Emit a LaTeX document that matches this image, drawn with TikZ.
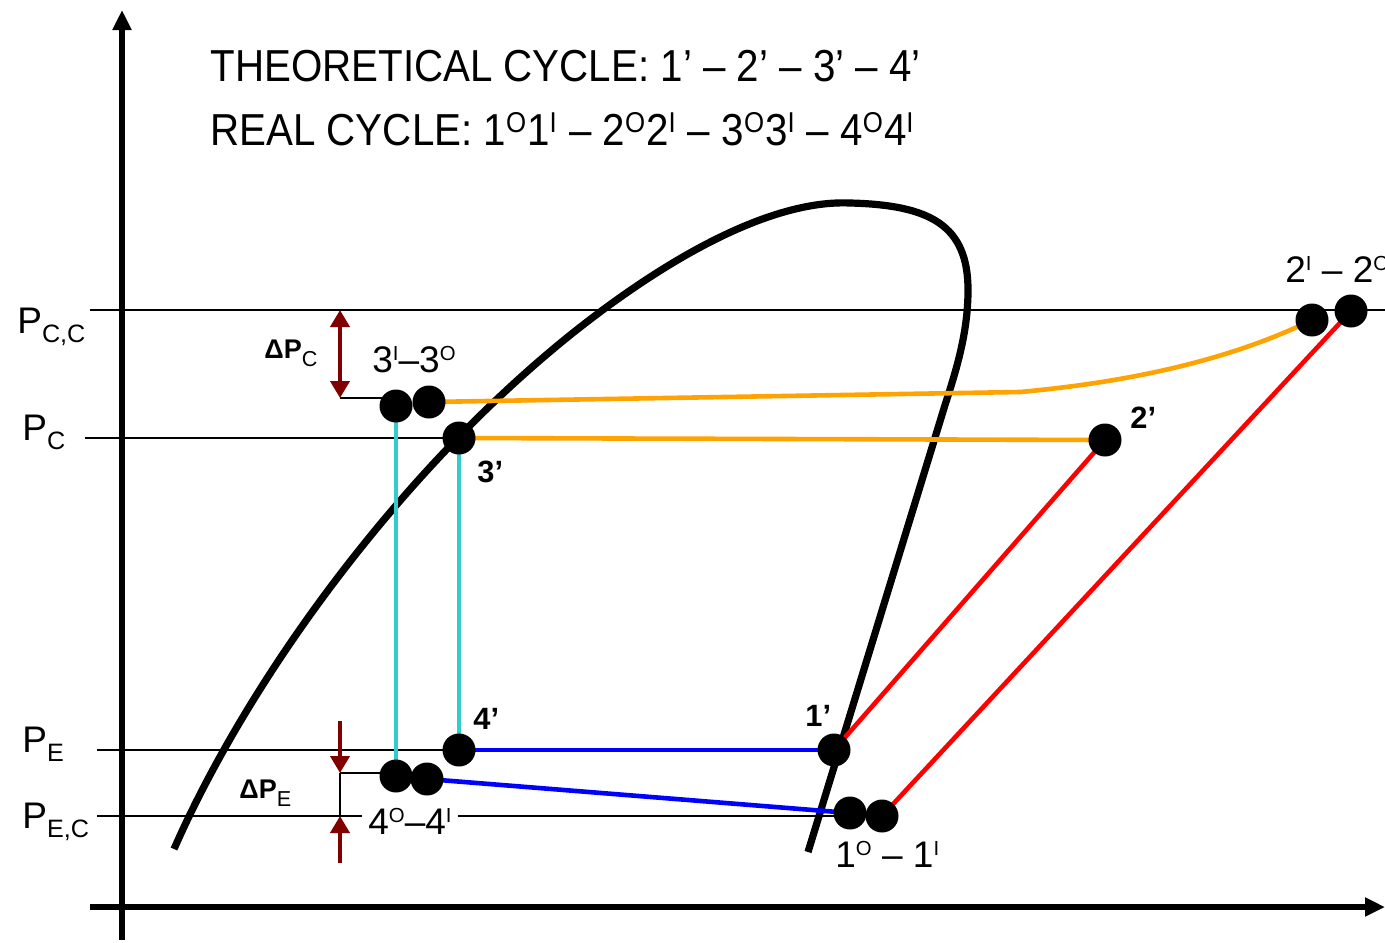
\documentclass[tikz,border=0pt]{standalone}
\usepackage{fontspec}
\usepackage{graphicx}
\setmainfont{Liberation Sans}
\newfontfamily\narrowfont[FakeStretch=0.9]{Liberation Sans}
\usetikzlibrary{arrows.meta}
\definecolor{corange}{RGB}{255,163,0}
\definecolor{ccyan}{RGB}{51,204,204}
\definecolor{cblue}{RGB}{0,0,255}
\definecolor{cred}{RGB}{255,0,0}
\definecolor{dred}{RGB}{128,0,0}
\newcommand\supx[1]{\raisebox{0.32em}{\scalebox{0.55}{#1}}}
\newcommand\supt[1]{\raisebox{0.27em}{\scalebox{0.64}{#1}}\kern0.5pt\relax}
\newcommand\subx[1]{\raisebox{-0.26em}{\scalebox{0.68}{#1}}}
\newcommand\subd[1]{\raisebox{-0.3em}{\scalebox{0.8}{#1}}}
\tikzset{dtip/.tip={Triangle[length=8.5pt,width=9.5pt]}}
\begin{document}
\begin{tikzpicture}[x=0.5pt,y=-0.5pt,
  dot/.style={circle,fill=black,minimum size=16.5pt,inner sep=0pt},
  thinline/.style={line width=0.75pt},
  axis/.style={line width=3pt,-{Triangle[length=10pt,width=9pt]}},
  dome/.style={line width=3.6pt},
  cyc/.style={line width=2.3pt},
  lbl/.style={font=\fontsize{18.5pt}{18.5pt}\selectfont,inner sep=0pt,anchor=base west},
  plbl/.style={font=\fontsize{18.5pt}{18.5pt}\selectfont,inner sep=0pt,anchor=base west},
  ptlbl/.style={font=\bfseries\fontsize{15.4pt}{15.4pt}\selectfont,inner sep=0pt,anchor=base west},
  dplbl/.style={font=\bfseries\fontsize{13.5pt}{13.5pt}\selectfont,inner sep=0pt,anchor=base west},
  title/.style={font=\narrowfont\fontsize{22.4pt}{22.4pt}\selectfont,inner sep=0pt,anchor=base west},
  dptip/.style={line width=2pt,dred},
]
\useasboundingbox (0,0) rectangle (1385,942);
% points
\coordinate (p3I) at (396,406);
\coordinate (p3O) at (429,402);
\coordinate (p3p) at (459,438);
\coordinate (p2p) at (1105,440);
\coordinate (p2I) at (1312,320);
\coordinate (p2O) at (1351,311);
\coordinate (p4p) at (459,750);
\coordinate (p1p) at (834,750);
\coordinate (p4O) at (396,776);
\coordinate (p4I) at (427,779);
\coordinate (p1O) at (850,813);
\coordinate (p1I) at (882,816);
% axes
\coordinate (yb) at (122,940); \coordinate (yt) at (122,10);
\coordinate (xl) at (90,907); \coordinate (xr) at (1385,907);
\draw[axis] (yb) -- (yt);
\draw[axis] (xl) -- (xr);
% pressure lines
\coordinate (pccL) at (90,310); \coordinate (pccR) at (1385,310);
\coordinate (pcL) at (85,438);
\coordinate (peL) at (97,750);
\coordinate (pecL) at (97,816); \coordinate (pecR) at (845,816);
\coordinate (d3) at (340,398); \coordinate (d4) at (340,773);
\coordinate (dcc) at (340,310); \coordinate (dec) at (340,816);
\coordinate (dtop) at (340,721); \coordinate (dbot) at (340,863);
\draw[thinline] (pccL) -- (pccR);
\draw[thinline] (pcL) -- (p3p);
\draw[thinline] (peL) -- (p1p);
\draw[thinline] (pecL) -- (pecR);
\draw[thinline] (d3) -- (d3 -| p3I);
\draw[thinline] (d4) -- (d4 -| p4O);
\draw[thinline] (d4) -- (dec);
% delta P arrows
\draw[dptip,{dtip}-{dtip}] (dcc) -- (d3);
\draw[dptip,-{dtip}] (dtop) -- (d4);
\draw[dptip,-{dtip}] (dbot) -- (dec);
% saturation dome
\draw[dome] (174,849) .. controls (255,665) and (420,446) .. (600,312)
  .. controls (690,245) and (780,200) .. (850,203)
  .. controls (930,205) and (968,225) .. (968,290)
  .. controls (968,330) and (958,365) .. (945,405)
  -- (808,852);
% cycle lines
\coordinate (bend) at (1020,392);
\draw[cyc,corange] (p3O) -- (bend) .. controls (1130,382) and (1230,360) .. (p2I);
\draw[cyc,corange] (p3p) -- (p2p);
\draw[cyc,cred] (p1p) -- (p2p);
\draw[cyc,cred] (p1I) -- (p2O);
\draw[cyc,ccyan] (p3I) -- (p4O);
\draw[cyc,ccyan] (p3p) -- (p4p);
\draw[cyc,cblue] (p4p) -- (p1p);
\draw[cyc,cblue] (p4I) -- (p1O);
% dots
\foreach \p in {p3I,p3O,p3p,p2p,p2I,p2O,p4p,p1p,p4O,p4I,p1O,p1I}
  \node[dot] (n\p) at (\p) {};
% labels
\node[title] (t1) at (210,81) {THEORETICAL CYCLE: 1’ – 2’ – 3’ – 4’};
\node[title] (t2) at (210,145) {REAL CYCLE: 1\supt{O}1\supt{I} – 2\supt{O}2\supt{I} – 3\supt{O}3\supt{I} – 4\supt{O}4\supt{I}};
\node[plbl] (lpcc) at (17,333) {P\subx{C,C}};
\node[plbl] (lpc) at (22,440) {P\subx{C}};
\node[plbl] (lpe) at (22,752) {P\subx{E}};
\node[plbl] (lpec) at (22,828) {P\subx{E,C}};
\node[dplbl] (ldpc) at (264,358) {ΔP\subd{\mdseries C}};
\node[dplbl] (ldpe) at (239,798) {ΔP\subd{\mdseries E}};
\node[lbl] (l3) at (372,372) {3\supx{I}–3\supx{O}};
\node[lbl,fill=white,inner xsep=3pt] (l4) at (362,834) {4\supx{O}–4\supx{I}};
\node[lbl] (l1) at (835,867) {1\supx{O} – 1\supx{I}};
\node[lbl] (l2) at (1285,282) {2\supx{I} – 2\supx{O}};
\node[ptlbl] (l3p) at (477,482) {3’};
\node[ptlbl] (l2p) at (1130,428) {2’};
\node[ptlbl] (l4p) at (473,729) {4’};
\node[ptlbl] (l1p) at (805,726) {1’};
\end{tikzpicture}
\end{document}
